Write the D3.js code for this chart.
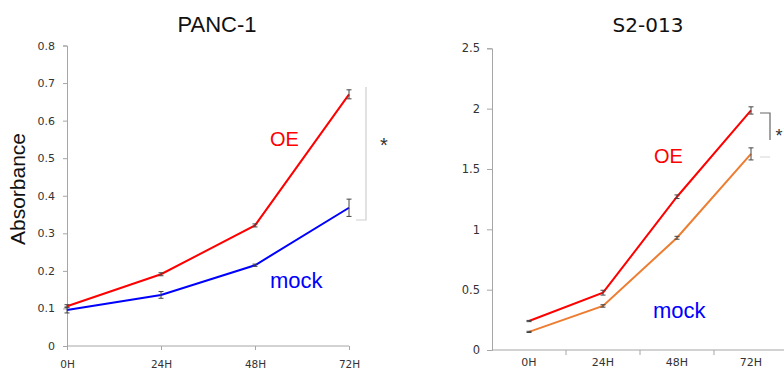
<!DOCTYPE html>
<html><head><meta charset="utf-8">
<script src="https://cdn.jsdelivr.net/npm/d3@7"></script>
<style>body{margin:0;background:#fff}svg{display:block}</style>
</head><body>
<svg id="c" width="784" height="371"></svg>
<script>
const categories = ["0H","24H","48H","72H"];
// PANC-1
const pancOE = [0.106, 0.191, 0.321, 0.670];
const pancOEerr = [0.004, 0.004, 0.004, 0.012];
const pancMock = [0.096, 0.136, 0.215, 0.368];
const pancMockErr = [0.008, 0.009, 0.003, 0.023];
const pancTicks = [0,0.1,0.2,0.3,0.4,0.5,0.6,0.7,0.8];
// S2-013
const s2OE = [0.24, 0.475, 1.27, 1.985];
const s2OEerr = [0.005, 0.02, 0.015, 0.03];
const s2Mock = [0.15, 0.365, 0.93, 1.625];
const s2MockErr = [0.005, 0.01, 0.012, 0.05];
const s2Ticks = [0,0.5,1,1.5,2,2.5];

const svg = d3.select("#c");
const axisColor = "#a6a6a6";
const tickFont = "DejaVu Sans, Verdana, sans-serif";
const labelFont = "Liberation Sans, Arial, sans-serif";

function styleAxis(g, fs){
  g.select(".domain").attr("stroke", axisColor);
  g.selectAll(".tick line").attr("stroke", axisColor);
  g.selectAll(".tick text").attr("fill","#333").attr("font-family",tickFont).attr("font-size",fs);
}

function drawSeries(x, y, vals, errs, color){
  const line = d3.line().x((d,i)=>x(categories[i])).y(d=>y(d));
  svg.append("path").datum(vals).attr("d", line).attr("fill","none")
    .attr("stroke", color).attr("stroke-width", 2);
  const g = svg.append("g").attr("stroke","#444").attr("stroke-width",1);
  vals.forEach((v,i)=>{
    const cx = x(categories[i]);
    const y1 = y(v+errs[i]), y2 = y(v-errs[i]);
    g.append("line").attr("x1",cx).attr("x2",cx).attr("y1",y1).attr("y2",y2);
    g.append("line").attr("x1",cx-2.5).attr("x2",cx+2.5).attr("y1",y1).attr("y2",y1);
    g.append("line").attr("x1",cx-2.5).attr("x2",cx+2.5).attr("y1",y2).attr("y2",y2);
  });
}

// ---------- Left chart: PANC-1
{
  const x = d3.scalePoint().domain(categories).range([67, 349]);
  const y = d3.scaleLinear().domain([0, 0.8]).range([346, 45.5]);
  const ga = svg.append("g").attr("transform","translate(67,0)")
    .call(d3.axisLeft(y).tickValues(pancTicks).tickFormat(d3.format("~g")).tickSize(4).tickPadding(8));
  styleAxis(ga, "11px");
  const gx = svg.append("g").attr("transform","translate(0,346)")
    .call(d3.axisBottom(x).tickSize(4).tickPadding(11));
  styleAxis(gx, "10.5px");
  gx.select(".domain").attr("d","M67,0H349");

  drawSeries(x, y, pancMock, pancMockErr, "#0000ff");
  drawSeries(x, y, pancOE, pancOEerr, "#ff0000");

  svg.append("text").attr("x",217).attr("y",32).attr("text-anchor","middle")
    .attr("font-family",labelFont).attr("font-size","22px").attr("fill","#111").text("PANC-1");
  svg.append("text").attr("transform","translate(25,189) rotate(-90)").attr("text-anchor","middle")
    .attr("font-family",labelFont).attr("font-size","21px").attr("fill","#111").text("Absorbance");
  svg.append("text").attr("x",270).attr("y",146).attr("font-family",labelFont)
    .attr("font-size","20px").attr("fill","#ff0000").text("OE");
  svg.append("text").attr("x",270).attr("y",288).attr("font-family",labelFont)
    .attr("font-size","22px").attr("fill","#0000ff").text("mock");
  // bracket
  svg.append("path").attr("d","M366,87V220H356").attr("fill","none").attr("stroke","#cfcfcf").attr("stroke-width",1.2);
  svg.append("text").attr("x",384).attr("y",152).attr("text-anchor","middle")
    .attr("font-family",labelFont).attr("font-size","20px").attr("fill","#333").text("*");
}

// ---------- Right chart: S2-013
{
  const x = d3.scaleBand().domain(categories).range([492, 788]).padding(0);
  const xc = c => x(c) + x.bandwidth()/2;
  const y = d3.scaleLinear().domain([0, 2.5]).range([350, 48.3]);
  const ga = svg.append("g").attr("transform","translate(492,0)")
    .call(d3.axisLeft(y).tickValues(s2Ticks).tickFormat(d3.format("~g")).tickSize(5).tickPadding(7));
  styleAxis(ga, "11.5px");
  const gx = svg.append("g").attr("transform","translate(0,350)")
    .call(d3.axisBottom(x).tickSize(0).tickPadding(8));
  styleAxis(gx, "11px");
  gx.select(".domain").attr("d","M492,0H788");
  // tick marks at band boundaries
  categories.forEach(c=>{
    const bx = x(c) + x.bandwidth();
    gx.append("line").attr("x1",bx).attr("x2",bx).attr("y1",0).attr("y2",5).attr("stroke",axisColor);
  });
  drawSeries(xc, y, s2Mock, s2MockErr, "#ed7d31");
  drawSeries(xc, y, s2OE, s2OEerr, "#ff0000");

  svg.append("text").attr("x",648).attr("y",32).attr("text-anchor","middle")
    .attr("font-family",tickFont).attr("font-size","20px").attr("fill","#111").text("S2-013");
  svg.append("text").attr("x",654).attr("y",163).attr("font-family",labelFont)
    .attr("font-size","20px").attr("fill","#ff0000").text("OE");
  svg.append("text").attr("x",653).attr("y",318).attr("font-family",labelFont)
    .attr("font-size","22px").attr("fill","#0000ff").text("mock");
  svg.append("path").attr("d","M760,113H770V140").attr("fill","none").attr("stroke","#666").attr("stroke-width",1.2);
  svg.append("path").attr("d","M760,157H770").attr("fill","none").attr("stroke","#dddddd").attr("stroke-width",1.2);
  svg.append("text").attr("x",779).attr("y",142).attr("text-anchor","middle")
    .attr("font-family",labelFont).attr("font-size","18px").attr("fill","#333").text("*");
}
</script>
</body></html>
